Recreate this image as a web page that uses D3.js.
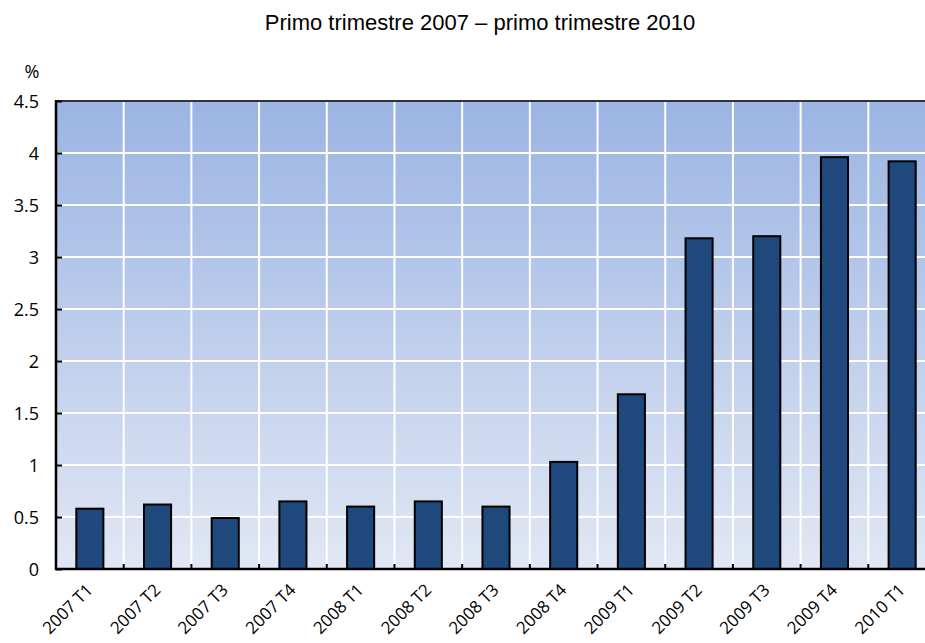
<!doctype html>
<html>
<head>
<meta charset="UTF-8">
<title>Primo trimestre 2007 – primo trimestre 2010</title>
<script src="https://cdn.jsdelivr.net/npm/d3@7"></script>
<style>
  body { margin: 0; background: #fff; }
  text { font-family: "Open Sans", "Liberation Sans", sans-serif; fill: #000; }
  .title { font-family: "Liberation Sans", Arial, sans-serif; }
</style>
</head>
<body>
<div id="chart"></div>
<script>
var width = 925, height = 643;

var quarters = ['2007 T1','2007 T2','2007 T3','2007 T4','2008 T1','2008 T2','2008 T3','2008 T4','2009 T1','2009 T2','2009 T3','2009 T4','2010 T1'];
var values = [0.58, 0.62, 0.49, 0.65, 0.60, 0.65, 0.60, 1.03, 1.68, 3.18, 3.20, 3.96, 3.92];
var yTicks = [0, 0.5, 1, 1.5, 2, 2.5, 3, 3.5, 4, 4.5];

var plotL = 56, plotR = 936, plotT = 101, plotB = 569;

var svg = d3.select("#chart").append("svg")
    .attr("width", width)
    .attr("height", height);

var grad = svg.append("defs").append("linearGradient")
    .attr("id", "bg")
    .attr("x1", 0).attr("y1", 0).attr("x2", 0).attr("y2", 1);
grad.append("stop").attr("offset", "0%").attr("stop-color", "#9bb4e3");
grad.append("stop").attr("offset", "100%").attr("stop-color", "#e1e7f4");

var x = d3.scaleBand().domain(quarters).range([plotL, plotR]).paddingInner(0.6).paddingOuter(0.3);
var y = d3.scaleLinear().domain([0, 4.5]).range([plotB, plotT]);

// band boundaries
var step = x.step();
var bounds = quarters.map(function (d, i) { return plotL + i * step; });

svg.append("rect")
    .attr("x", plotL).attr("y", plotT)
    .attr("width", plotR - plotL).attr("height", plotB - plotT)
    .style("fill", "url(#bg)");

// white grid
svg.selectAll(".hgrid")
    .data(yTicks.slice(1, -1))
    .enter().append("line")
    .attr("x1", plotL).attr("x2", plotR)
    .attr("y1", function (d) { return y(d); })
    .attr("y2", function (d) { return y(d); })
    .style("stroke", "#fff").style("stroke-width", 2);

svg.selectAll(".vgrid")
    .data(bounds.slice(1))
    .enter().append("line")
    .attr("x1", function (d) { return d; })
    .attr("x2", function (d) { return d; })
    .attr("y1", plotT).attr("y2", plotB)
    .style("stroke", "#fff").style("stroke-width", 2);

// bars
svg.selectAll(".bar")
    .data(values)
    .enter().append("rect")
    .attr("class", "bar")
    .attr("x", function (d, i) { return x(quarters[i]); })
    .attr("width", x.bandwidth())
    .attr("y", function (d) { return y(d); })
    .attr("height", function (d) { return plotB - y(d); })
    .style("fill", "#1f497d")
    .style("stroke", "#000")
    .style("stroke-width", 2);

// top border
svg.append("line")
    .attr("x1", plotL).attr("x2", plotR)
    .attr("y1", plotT).attr("y2", plotT)
    .style("stroke", "#333").style("stroke-width", 2);

// y axis
var yAxis = svg.append("g")
    .attr("transform", "translate(" + plotL + ",0)")
    .call(d3.axisRight(y).tickValues(yTicks).tickSize(6).tickFormat(function (d) { return d; }));
yAxis.select(".domain").remove();
yAxis.selectAll(".tick line").style("stroke", "#000").style("stroke-width", 2);
yAxis.selectAll(".tick text")
    .attr("x", -17)
    .attr("dy", "0.35em")
    .style("text-anchor", "end")
    .style("font-size", "18px");

svg.append("line")
    .attr("x1", plotL).attr("x2", plotL)
    .attr("y1", plotT - 1).attr("y2", plotB + 1)
    .style("stroke", "#000").style("stroke-width", 2.5);

// x axis
svg.selectAll(".xtick")
    .data(bounds.slice(1))
    .enter().append("line")
    .attr("x1", function (d) { return d; })
    .attr("x2", function (d) { return d; })
    .attr("y1", plotB).attr("y2", plotB - 5)
    .style("stroke", "#000").style("stroke-width", 2);

svg.append("line")
    .attr("x1", plotL - 1).attr("x2", plotR)
    .attr("y1", plotB).attr("y2", plotB)
    .style("stroke", "#000").style("stroke-width", 2.5);

svg.selectAll(".xlabel")
    .data(quarters)
    .enter().append("text")
    .attr("transform", function (d) {
        return "translate(" + (x(d) + x.bandwidth() / 2 + 4) + "," + (plotB + 22) + ") rotate(-45)";
    })
    .style("text-anchor", "end")
    .style("font-size", "17px")
    .text(function (d) { return d; });

svg.append("text")
    .attr("x", 32).attr("y", 78)
    .style("text-anchor", "middle")
    .style("font-size", "18px")
    .text("%");

svg.append("text")
    .attr("class", "title")
    .attr("x", 480).attr("y", 30)
    .style("text-anchor", "middle")
    .style("font-size", "22px")
    .text("Primo trimestre 2007 – primo trimestre 2010");
</script>
</body>
</html>
